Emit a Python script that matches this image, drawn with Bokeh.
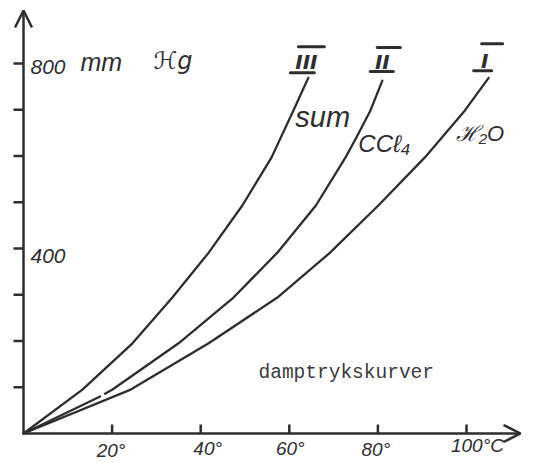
from bokeh.plotting import figure
from bokeh.models import Range1d, Label, Arrow, OpenHead
from bokeh.embed import file_html
from bokeh.resources import INLINE

nan = float("nan")

# ---- data: temperature (°C) vs vapour pressure (mm Hg)
temp_I = [0, 24.2, 41.8, 57.3, 69.2, 80.1, 90.6, 99.6, 105.0]
press_I = [0, 95, 195, 294, 391, 493, 597, 698, 769]
temp_II = [0, 17.3, nan, 18.4, 20.1, 35.0, 47.4, 57.3, 66.0, 72.7, 75.2, 78.3, 81.0]
press_II = [0, 80, nan, 86, 95, 195, 294, 391, 493, 597, 641, 698, 763]
temp_III = [0, 13.3, 24.6, 33.6, 41.8, 49.4, 56.0, 60.9, 64.3]
press_III = [0, 95, 195, 294, 391, 493, 597, 698, 769]

curve_numerals = ["I", "II", "III"]
substance_labels = ["ℋ₂O", "CCℓ₄", "sum"]
x_ticks = [20, 40, 60, 80, 100]
x_tick_labels = ["20°", "40°", "60°", "80°", "100°C"]
y_ticks = [100, 200, 300, 400, 500, 600, 700, 800]
y_tick_labels = {800: "800", 400: "400"}
y_unit_parts = ["mm", "ℋg"]
caption = "damptrykskurver"

# ---- layout
INK = "#2e2e2e"
W, H = 539, 463
OX, OY = 23, 433          # page position of the origin
XS = 4.43                 # px per degree
YS = 0.4625               # px per mm Hg
X_TIP, Y_TIP = (520 - OX) / XS, (OY - 10) / YS
HAND = "Liberation Sans"

p = figure(width=W, height=H,
           x_range=Range1d(-OX / XS, (W - OX) / XS),
           y_range=Range1d(-(H - OY) / YS, OY / YS),
           x_axis_type=None, y_axis_type=None,
           output_backend="svg", toolbar_location=None, min_border=0)
p.grid.visible = False
p.outline_line_color = None
p.background_fill_color = "white"
p.border_fill_color = "white"

# axes with arrow heads
for xe, ye in [(0, Y_TIP), (X_TIP, 0)]:
    p.add_layout(Arrow(end=OpenHead(size=17, line_width=2.5, line_color=INK),
                       x_start=0, y_start=0, x_end=xe, y_end=ye,
                       line_width=2.5, line_color=INK))

# tick marks
p.segment(x0=[-10 / XS] * len(y_ticks), y0=y_ticks, x1=[0] * len(y_ticks), y1=y_ticks,
          line_color=INK, line_width=2.5)
p.segment(x0=x_ticks, y0=[0] * len(x_ticks), x1=x_ticks, y1=[9 / YS] * len(x_ticks),
          line_color=INK, line_width=2.5)

# curves
curves = [(temp_I, press_I), (temp_II, press_II), (temp_III, press_III)]
for t, pr in curves:
    p.line(t, pr, line_color=INK, line_width=2.3, line_join="round", line_cap="round")

# roman numerals with over/under bars, placed at curve ends
numeral_offsets = {  # text centre, overbar (x0,x1,y), underbar (x0,x1,y) in px
    "I": ((-4, 17), (-7, 14, 34), (-15, 3, 7)),
    "II": ((0, 19), (-5, 18, 33), (-12, 11, 9)),
    "III": ((-2, 16), (-10, 16, 31), (-18, 6, 5)),
}
bx0, bx1, by0, by1 = [], [], [], []
for (t, pr), num in zip(curves, curve_numerals):
    te, pe = t[-1], pr[-1]
    (tx, ty), over, under = numeral_offsets[num]
    p.add_layout(Label(x=te, y=pe, x_offset=tx, y_offset=ty, text=num,
                       text_align="center", text_baseline="middle",
                       text_font="DejaVu Sans", text_font_style="bold italic",
                       text_font_size="20px", text_color=INK))
    for x0, x1, yy in (over, under):
        bx0.append(te + x0 / XS); bx1.append(te + x1 / XS)
        by0.append(pe + yy / YS); by1.append(pe + yy / YS)
p.segment(bx0, by0, bx1, by1, line_color=INK, line_width=3, line_cap="round")

# substance labels near upper parts of curves (offsets from curve end, px)
sub_offsets = {"ℋ₂O": (-33, -56, "22px"), "CCℓ₄": (-24, -63, "24px"), "sum": (-13, -39, "29px")}
for (t, pr), lab in zip(curves, substance_labels):
    ox, oy, fs = sub_offsets[lab]
    p.add_layout(Label(x=t[-1], y=pr[-1], x_offset=ox, y_offset=oy, text=lab,
                       text_align="left", text_baseline="alphabetic",
                       text_font=HAND, text_font_style="italic",
                       text_font_size=fs, text_color=INK))

# x tick labels (below axis)
x_lab_off = [(-1, -17), (7, -15), (1, -15), (-2, -16), (11, -12)]
for v, lab, (ox, oy) in zip(x_ticks, x_tick_labels, x_lab_off):
    p.add_layout(Label(x=v, y=0, x_offset=ox, y_offset=oy, text=lab,
                       text_align="center", text_baseline="alphabetic",
                       text_font=HAND, text_font_style="italic",
                       text_font_size="19px", text_color=INK))

# y tick labels (inside, right of axis)
y_lab_off = {800: -3, 400: -7}
for v, lab in y_tick_labels.items():
    p.add_layout(Label(x=0, y=v, x_offset=7, y_offset=y_lab_off[v],
                       text=lab, text_align="left", text_baseline="alphabetic",
                       text_font=HAND, text_font_style="italic",
                       text_font_size="21px", text_color=INK))
p.add_layout(Label(x=0, y=800, x_offset=57, y_offset=2, text=y_unit_parts[0],
                   text_align="left", text_baseline="alphabetic",
                   text_font=HAND, text_font_style="italic",
                   text_font_size="25px", text_color=INK))
p.add_layout(Label(x=0, y=800, x_offset=130, y_offset=3, text=y_unit_parts[1],
                   text_align="left", text_baseline="alphabetic",
                   text_font="DejaVu Sans", text_font_style="italic",
                   text_font_size="24px", text_color=INK))

# caption (typewriter)
p.add_layout(Label(x=(258 - OX) / XS, y=(OY - 372) / YS, text=caption,
                   text_align="left", text_baseline="alphabetic",
                   text_font="Liberation Mono", text_font_size="19.5px",
                   text_color="#3a3a3a"))

open("out.html", "w").write(file_html(p, INLINE))
